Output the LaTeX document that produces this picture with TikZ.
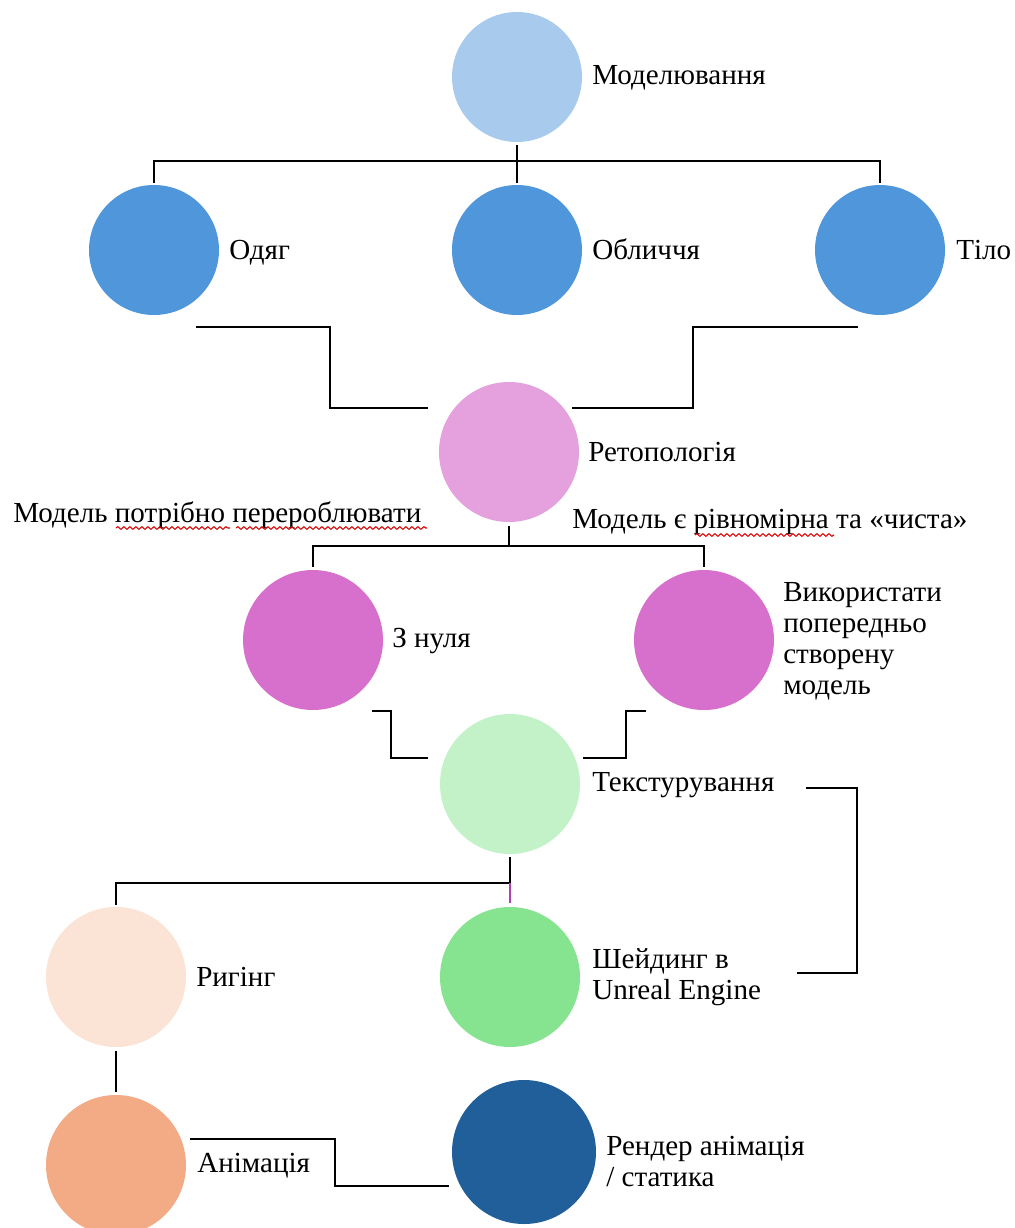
\documentclass[tikz,border=0pt]{standalone}
\usepackage{fontspec}
\setmainfont{Liberation Serif}
\newfontfamily\tnrfont{Liberation Serif}
\usetikzlibrary{decorations.pathmorphing}
\definecolor{cMod}{HTML}{A8CBED}
\definecolor{cTop}{HTML}{4F96DA}
\definecolor{cRet}{HTML}{E4A1DE}
\definecolor{cZn}{HTML}{D770CC}
\definecolor{cTex}{HTML}{C3F1C8}
\definecolor{cRig}{HTML}{FBE3D6}
\definecolor{cSh}{HTML}{86E38F}
\definecolor{cAn}{HTML}{F2AB85}
\definecolor{cRen}{HTML}{215F9A}
\definecolor{cPurp}{HTML}{B040B0}
\begin{document}
\begin{tikzpicture}[x=0.75pt,y=-0.75pt,
  bub/.style={circle,fill=#1,draw=none,inner sep=0pt,minimum size=105pt},
  bubs/.style={circle,fill=#1,draw=none,inner sep=0pt,minimum size=97.5pt},
  lbl/.style={anchor=west,inner sep=0pt,align=left,font=\tnrfont\fontsize{21.8}{23.25}\selectfont},
  conn/.style={draw=black,line width=2.2pt},
  purp/.style={draw=cPurp,line width=1.6pt},
  squig/.style={draw=red!85!black,line width=0.8pt,decorate,decoration={snake,segment length=4.5pt,amplitude=1pt}}]
\useasboundingbox (0,0) rectangle (1014,1228);

% circles
\node[bubs=cMod] (mod) at (517,77) {};
\node[bubs=cTop] (odyag) at (154,250) {};
\node[bubs=cTop] (oblych) at (517,250) {};
\node[bubs=cTop] (tilo) at (880,250) {};
\node[bub=cRet] (ret) at (509,452) {};
\node[bub=cZn] (znul) at (313,640) {};
\node[bub=cZn] (vykor) at (704,640) {};
\node[bub=cTex] (tex) at (510,784) {};
\node[bub=cRig] (rig) at (116,977) {};
\node[bub=cSh] (shd) at (510,977) {};
\node[bub=cAn] (anim) at (116,1165) {};
\node[bub=cRen,minimum size=108pt] (rend) at (524,1152) {};

% labels
\node[lbl] (tmod) at (592,78) {Моделювання};
\node[lbl] (todyag) at (229,253) {Одяг};
\node[lbl] (toblych) at (592,249) {Обличчя};
\node[lbl] (ttilo) at (956,250) {Тіло};
\node[lbl] (tret) at (588,452) {Ретопологія};
\node[lbl] (tleft) at (13,515) {Модель потрібно перероблювати};
\node[lbl] (tright) at (572,522) {Модель є рівномірна та «чиста»};
\node[lbl] (tznul) at (392,641) {З нуля};
\node[lbl] (tvykor) at (783,641) {Використати\\попередньо\\створену\\модель};
\node[lbl] (ttex) at (592,785) {Текстурування};
\node[lbl] (trig) at (196,977) {Ригінг};
\node[lbl] (tshd) at (592,977) {Шейдинг в\\Unreal Engine};
\node[lbl] (tanim) at (197,1166) {Анімація};
\node[lbl] (trend) at (606,1162) {Рендер анімація\\/ статика};

% spell-check underlines
\draw[squig] (116,528) -- (230,528);
\draw[squig] (236,528) -- (427,528);
\draw[squig] (695,535) -- (834,535);

% connectors
\coordinate (j1) at (517,161);
\draw[conn,shorten <=2pt] (mod) -- (j1);
\draw[conn,shorten <=1.5pt,shorten >=1.5pt] (odyag.north) |- (j1) -| (tilo.north);
\draw[conn,shorten >=1.5pt] (j1) -- (oblych.north);

\coordinate (a1) at (196,327);
\coordinate (a2) at (428,408);
\draw[conn] (a1) -- (330,327) |- (a2);
\coordinate (b1) at (858,327);
\coordinate (b2) at (572,408);
\draw[conn] (b1) -- (693,327) |- (b2);

\coordinate (j2) at (509,546);
\draw[conn,shorten <=3pt] (ret) -- (j2);
\draw[conn,shorten <=2pt,shorten >=2pt] (znul.north) |- (j2) -| (vykor.north);

\coordinate (c1) at (372,711);
\coordinate (c2) at (428,758);
\draw[conn] (c1) -- (391,711) |- (c2);
\coordinate (d1) at (646,711);
\coordinate (d2) at (583,758);
\draw[conn] (d1) -- (626,711) |- (d2);

\coordinate (j3) at (510,883);
\draw[conn,shorten <=2pt] (tex) -- (j3);
\draw[conn,shorten >=1.5pt] (j3) -| (rig.north);
\draw[purp,shorten >=3pt] (j3) -- (shd.north);

\coordinate (e1) at (806,788);
\coordinate (e2) at (797,973);
\draw[conn] (e1) -| (857,973) -- (e2);

\draw[conn,shorten <=3pt,shorten >=2pt] (rig) -- (anim);

\coordinate (f1) at (190,1139);
\coordinate (f2) at (449,1186);
\draw[conn] (f1) -- (335,1139) |- (f2);
\end{tikzpicture}
\end{document}
